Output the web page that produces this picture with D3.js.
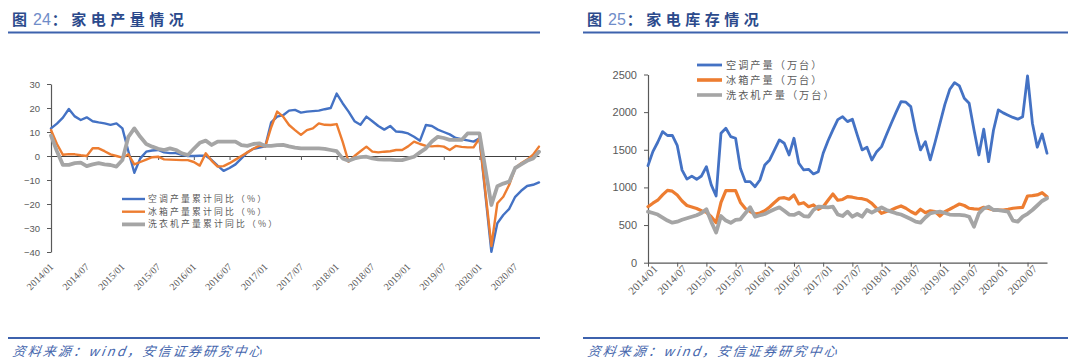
<!DOCTYPE html>
<html><head><meta charset="utf-8">
<script src="https://cdn.jsdelivr.net/npm/d3@7"></script>
<style>
html,body{margin:0;padding:0;background:#fff;}
svg{display:block;}
</style></head>
<body>
<svg id="c" width="1080" height="364"></svg>
<script>
// ---------- data ----------
const tickLabels = ["2014/01","2014/07","2015/01","2015/07","2016/01","2016/07","2017/01","2017/07","2018/01","2018/07","2019/01","2019/07","2020/01","2020/07"];

// Left chart: cumulative YoY production (%), monthly 2014/01 - 2020/11
const acYoY = [11.5,13.5,16,19.6,16.5,15,16.1,14.5,14,13.6,13,13.6,11.5,2,-7,-1,1.8,2.3,2.5,1.5,1.2,1.2,0.5,0,0,0.1,0.1,-1.7,-4,-6.2,-5,-3.5,-1,1.5,3,3.5,4,14,16.4,17,18.9,19.2,18.1,18.5,18.7,18.9,19.5,20,26,22,18.5,14.5,13,16.4,14.5,12.5,11,12.5,10.2,10,9.4,8,6.4,12.9,12.5,11,10,9,7.5,7,6.5,6,7.4,null,-39.9,-28,-24.6,-22,-17,-14.5,-12.5,-12,-11];
const fridgeYoY = [10.8,5,0.5,0.8,0.7,0.3,0,3.2,3.2,2,0.7,0,-0.7,0.7,-3.5,-2.5,-1.5,-0.5,-0.3,-1.4,-1.5,-1.6,-1.7,-1.7,-2.5,-4,1.1,-2,-4.4,-4.2,-3,-1.5,0,1.5,3,4.3,3.9,12,18.5,16.4,12.9,10.8,8.8,10.8,11.5,13.6,13,12.9,13.3,6,-2.4,0,2,3.9,1.8,1.5,1.8,2,2.5,2.5,4,6,5,4.2,4,4.2,3.9,2.5,4.2,3.8,3.6,3.6,7.4,null,-37.5,-19.7,-17,-12,-5,-3,-1.5,0.5,3.9];
const washerYoY = [8.5,2,-3.7,-3.7,-3,-2.8,-4.2,-3.5,-3,-3.5,-3.75,-4.4,-1.7,8,11.5,8,5,3.9,3,2.5,3.2,2.5,1.1,0.4,3,5.5,6.4,4.6,6,6,6,6,4.5,4.2,5,5.3,4.2,4.2,4.5,4.6,4,3.5,3.2,3.2,3.2,3.2,3,2.5,2,-1,-2,-1,-0.5,-0.3,-1,-1.4,-1.5,-1.5,-1.7,-1.7,-1,-0.3,1.5,3.2,6,8,7.5,6.7,6.7,6.7,9.4,9.4,9.4,null,-20.4,-12.6,-11.5,-10.7,-5,-3.5,-2,-1,1.8];
const leftNames = ["空调产量累计同比（%）","冰箱产量累计同比（%）","洗衣机产量累计同比（%）"];
const leftTicks = [-40,-30,-20,-10,0,10,20,30];

// Right chart: production (10k units), monthly 2014/01 - 2020/11
const acOut = [1290,1475,1600,1741,1690,1690,1560,1230,1110,1150,1108,1152,1276,1033,886,1720,1786,1675,1653,1250,1077,1077,1010,1099,1298,1365,1500,1631,1587,1431,1653,1321,1232,1241,1179,1209,1454,1620,1764,1900,1940,1874,1906,1697,1498,1534,1365,1475,1542,1700,1853,2000,2140,2132,2073,1750,1498,1608,1365,1600,1850,2100,2300,2392,2348,2185,2118,1764,1431,1773,1342,1760,2030,1990,1960,1930,1906,1940,2481,1853,1534,1710,1454];
const fridgeOut = [744,790,830,900,960,950,900,820,760,740,720,690,670,611,532,800,957,957,957,800,720,680,647,660,690,740,800,856,864,843,900,780,797,744,767,710,744,830,913,830,840,877,870,856,850,833,789,723,656,680,700,730,754,723,680,647,710,665,690,680,620,678,710,744,780,760,723,715,710,736,720,700,700,700,710,723,730,736,886,890,900,930,877];
const washerOut = [678,660,640,600,560,532,545,570,590,610,630,660,710,545,400,620,560,530,568,577,656,736,611,630,647,680,710,736,690,640,634,665,620,611,700,744,740,736,744,640,620,678,611,647,611,700,665,700,736,700,678,656,640,611,580,545,532,600,656,670,678,660,640,634,634,630,611,478,656,720,744,700,700,690,678,560,545,611,650,700,760,820,856];
const rightNames = ["空调产量（万台）","冰箱产量（万台）","洗衣机产量（万台）"];
const rightTicks = [0,500,1000,1500,2000,2500];

const titles = [["图","24","：家电产量情况"],["图","25","：家电库存情况"]];
const source = "资料来源：wind，安信证券研究中心";

// ---------- styles ----------
const colors = ["#4472c4","#ed7d31","#a5a5a5"];
const navy = "#2b4a8c";
const ruleBlue = "#3d62ad";
const axisCol = "#595959";
const txtCol = "#595959";
const cjk = "'Noto Sans CJK SC', sans-serif";

const svg = d3.select("#c");

function header(x0, x1, t) {
  const g = svg.append("g");
  const tx = g.append("text").attr("x", x0 + 4).attr("y", 25).attr("font-family", cjk).attr("font-size", 15).attr("fill", navy);
  tx.append("tspan").attr("font-weight", "bold").text(t[0]);
  tx.append("tspan").attr("dx", 6).attr("font-family", "'Liberation Sans', sans-serif").attr("font-size", 16).attr("fill", "#6f8cc8").text(t[1]);
  tx.append("tspan").attr("dx", 1).attr("font-weight", "bold").attr("letter-spacing", 4.5).text(t[2]);
  g.append("line").attr("x1", x0).attr("x2", x1).attr("y1", 32.5).attr("y2", 32.5).attr("stroke", ruleBlue).attr("stroke-width", 2);
  g.append("line").attr("x1", x0).attr("x2", x1).attr("y1", 338).attr("y2", 338).attr("stroke", ruleBlue).attr("stroke-width", 2);
  g.append("text").attr("x", x0 + 4).attr("y", 356).attr("font-family", cjk).attr("font-size", 13).attr("font-style", "italic")
    .attr("letter-spacing", 2.2).attr("fill", "#4566ad").attr("transform", `skewX(-8) translate(${(356) * Math.tan(8 * Math.PI / 180)},0)`).text(source);
}
header(8, 540, titles[0]);
header(583, 1068, titles[1]);

function styleAxis(g) {
  g.selectAll("path.domain").attr("stroke", axisCol).attr("stroke-width", 1.2);
  g.selectAll(".tick line").attr("stroke", axisCol).attr("stroke-width", 1);
}

// ---------- left chart ----------
{
  const x = d3.scaleLinear().domain([0, 82]).range([51, 539]);
  const y = d3.scaleLinear().domain([-40, 30]).range([252, 84]);

  const ya = svg.append("g").attr("transform", `translate(${x(0)},0)`)
    .call(d3.axisLeft(y).tickValues(leftTicks).tickSize(4).tickSizeOuter(0).tickPadding(7).tickFormat(d3.format("d")));
  styleAxis(ya);
  ya.selectAll("text").attr("font-family", "'Liberation Sans', sans-serif").attr("font-size", 9.5).attr("fill", txtCol);

  const xa = svg.append("g").attr("transform", `translate(0,${y(0)})`)
    .call(d3.axisBottom(x).tickValues(d3.range(0, 79, 6)).tickSize(4).tickSizeOuter(0).tickFormat(""));
  styleAxis(xa);
  xa.select("path.domain").attr("stroke", "#404040");

  const xl = svg.append("g").attr("transform", `translate(0,${265})`)
    .call(d3.axisBottom(x).tickValues(d3.range(0, 79, 6)).tickSize(0).tickFormat((d, i) => tickLabels[i]));
  xl.select("path.domain").remove();
  xl.selectAll("text").attr("font-family", "'Liberation Serif', serif").attr("font-size", 10).attr("fill", txtCol)
    .attr("text-anchor", "end").attr("x", 0).attr("y", 0).attr("dy", "0.35em").attr("transform", "rotate(-45)");

  const series = [acYoY, fridgeYoY, washerYoY];
  const widths = [2.4, 2.4, 3.8];
  series.forEach((s, k) => {
    const pts = s.map((v, i) => [i, v]).filter(p => p[1] !== null);
    svg.append("path").datum(pts).attr("fill", "none").attr("stroke", colors[k]).attr("stroke-width", widths[k])
      .attr("stroke-linejoin", "round").attr("stroke-linecap", "round")
      .attr("d", d3.line().x(p => x(p[0])).y(p => y(p[1])));
  });

  const lg = svg.append("g").attr("transform", "translate(122,199)");
  leftNames.forEach((n, k) => {
    const r = lg.append("g").attr("transform", `translate(0,${k * 12.7})`);
    r.append("line").attr("x1", 0).attr("x2", 23).attr("stroke", colors[k]).attr("stroke-width", k === 2 ? 3.8 : 2.4);
    r.append("text").attr("x", 26).attr("y", 0).attr("dy", "0.35em").attr("font-family", cjk).attr("font-size", 8.8)
      .attr("letter-spacing", 2.2).attr("fill", txtCol).text(n);
  });
}

// ---------- right chart ----------
{
  const x = d3.scaleLinear().domain([0, 82]).range([648, 1047]);
  const y = d3.scaleLinear().domain([0, 2500]).range([262.7, 74.5]);

  const ya = svg.append("g").attr("transform", `translate(${x(0)},0)`)
    .call(d3.axisLeft(y).tickValues(rightTicks).tickSize(4).tickSizeOuter(0).tickPadding(7).tickFormat(d3.format("d")));
  styleAxis(ya);
  ya.selectAll("text").attr("font-family", "'Liberation Sans', sans-serif").attr("font-size", 11).attr("fill", txtCol);

  const xa = svg.append("g").attr("transform", `translate(0,${y(0)})`)
    .call(d3.axisBottom(x).tickValues(d3.range(0, 79, 6)).tickSize(4).tickSizeOuter(0).tickFormat((d, i) => tickLabels[i]));
  styleAxis(xa);
  xa.selectAll("text").attr("font-family", "'Liberation Serif', serif").attr("font-size", 11).attr("fill", txtCol)
    .attr("text-anchor", "end").attr("x", 2).attr("y", 8).attr("dy", "0.35em").attr("transform", "rotate(-45)");

  const series = [acOut, fridgeOut, washerOut];
  const widths = [2.8, 3.2, 3.8];
  series.forEach((s, k) => {
    svg.append("path").datum(s).attr("fill", "none").attr("stroke", colors[k]).attr("stroke-width", widths[k])
      .attr("stroke-linejoin", "round").attr("stroke-linecap", "round")
      .attr("d", d3.line().x((v, i) => x(i)).y(v => y(v)));
  });

  const lg = svg.append("g").attr("transform", "translate(697,65)");
  rightNames.forEach((n, k) => {
    const r = lg.append("g").attr("transform", `translate(0,${k * 15})`);
    r.append("line").attr("x1", 0).attr("x2", 25).attr("stroke", colors[k]).attr("stroke-width", k === 0 ? 2.8 : 3.6);
    r.append("text").attr("x", 29).attr("y", 0).attr("dy", "0.35em").attr("font-family", cjk).attr("font-size", 10.2)
      .attr("letter-spacing", 2).attr("fill", txtCol).text(n);
  });
}
</script>
</body></html>
